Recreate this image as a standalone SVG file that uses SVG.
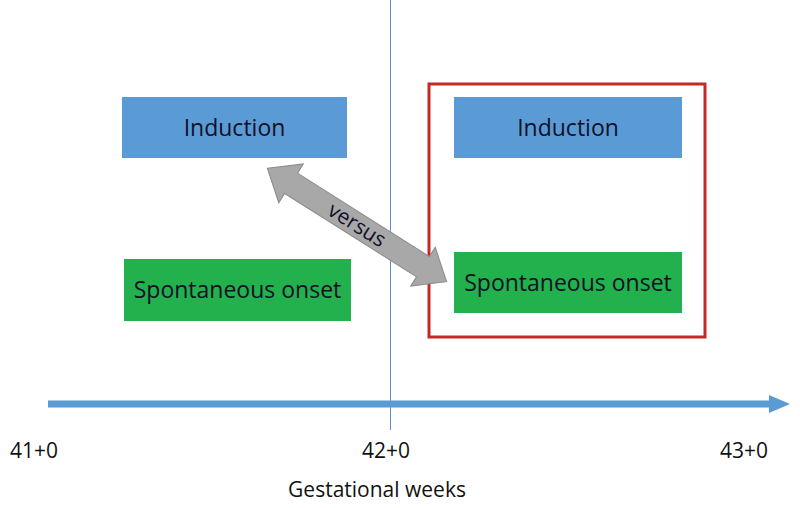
<svg xmlns="http://www.w3.org/2000/svg" width="800" height="508" viewBox="0 0 800 508">
<style>
.lbl{font-family:"Open Sans","Liberation Sans",sans-serif;fill:#101028;text-anchor:middle}
.box{font-size:23px}
.ax{font-size:21px;fill:#111}
.ind{fill:#5b9bd5}
.spo{fill:#22b14c}
</style>
<rect width="800" height="508" fill="#ffffff"/>
<line x1="390.5" y1="0" x2="390.5" y2="430" stroke="#5b8fc9" stroke-width="1"/>
<rect x="429" y="84" width="276" height="253" fill="none" stroke="#c62828" stroke-width="3"/>
<g id="induction-left"><rect class="ind" x="122" y="97" width="225" height="61"/><text class="lbl box" x="234.5" y="136">Induction</text></g>
<g id="spontaneous-left"><rect class="spo" x="124" y="259" width="227" height="62"/><text class="lbl box" x="237.5" y="298">Spontaneous onset</text></g>
<g id="induction-right"><rect class="ind" x="454" y="97" width="228" height="61"/><text class="lbl box" x="568" y="136">Induction</text></g>
<g id="spontaneous-right"><rect class="spo" x="454" y="252" width="228" height="61"/><text class="lbl box" x="568" y="291">Spontaneous onset</text></g>
<g id="connectors">
<g transform="translate(357,225) rotate(32.3)">
<polygon points="-106,0 -78,-23 -78,-12 78,-12 78,-23 106,0 78,23 78,12 -78,12 -78,23" fill="#a8a8a8" stroke="#8a8a8a" stroke-width="1"/>
<text class="lbl" x="0" y="7" font-size="21" fill="#1a1a1a">versus</text>
</g>
<line x1="48" y1="404" x2="770" y2="404" stroke="#5b9bd5" stroke-width="7"/>
<polygon points="769,395 790,404 769,413" fill="#5b9bd5"/>
</g>
<text class="lbl ax" x="34" y="458">41+0</text>
<text class="lbl ax" x="386" y="458">42+0</text>
<text class="lbl ax" x="744" y="458">43+0</text>
<text class="lbl ax" x="377" y="497" font-size="20">Gestational weeks</text>
</svg>
